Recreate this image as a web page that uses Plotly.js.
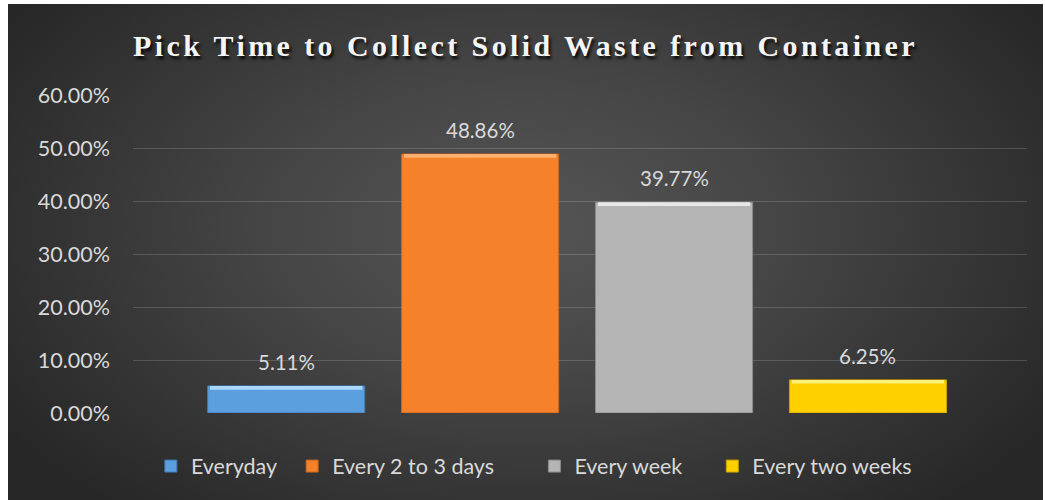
<!DOCTYPE html>
<html>
<head>
<meta charset="utf-8">
<script src="https://cdn.plot.ly/plotly-3.0.1.min.js"></script>
<style>
  html, body { margin: 0; padding: 0; background: #ffffff; width: 1045px; height: 500px; overflow: hidden; }
  #wrap { position: absolute; left: 8px; top: 4px; width: 1035px; height: 496px;
    background: radial-gradient(ellipse 60% 75% at 50% 45%, #555555 0%, #464646 40%, #343434 75%, #272727 100%); }
  #chart { width: 1035px; height: 496px; }
  .gtitle { letter-spacing: 3.4px; }
</style>
</head>
<body>
<div id="wrap"><div id="chart"></div></div>
<script>
const categories = ["Everyday", "Every 2 to 3 days", "Every week", "Every two weeks"];
const values = [0.0511, 0.4886, 0.3977, 0.0625];
const labels = ["5.11%", "48.86%", "39.77%", "6.25%"];
const colors = ["#5b9fdf", "#f5822a", "#b4b4b4", "#ffd000"];
const highlights = ["#a9d8fb", "#fbb070", "#e8e8e8", "#fff07a"];
const edges = ["#3f79b3", "#c9651c", "#8a8a8a", "#c9a000"];
const tickVals = [0, 0.1, 0.2, 0.3, 0.4, 0.5, 0.6];
const tickText = ["0.00%", "10.00%", "20.00%", "30.00%", "40.00%", "50.00%", "60.00%"];

const legendIds = ["legend", "legend2", "legend3", "legend4"];
const legendX = [0.020, 0.178, 0.449, 0.648];

const barWidth = 0.81;
const hl = 0.007;
const traces = [];
categories.forEach((c, i) => {
  traces.push({
    type: "bar", x: [i], y: [values[i]], name: c, width: barWidth,
    marker: { color: colors[i], line: { color: edges[i], width: 1 } },
    hoverinfo: "skip", legendgroup: c, legend: legendIds[i]
  });
});
categories.forEach((c, i) => {
  traces.push({
    type: "bar", x: [i], y: [hl], base: [values[i] - hl], width: barWidth * 0.97,
    marker: { color: highlights[i], line: { width: 0 } },
    showlegend: false, hoverinfo: "skip", legendgroup: c
  });
});

const annotations = categories.map((c, i) => ({
  x: i, y: values[i], xref: "x", yref: "y", text: labels[i], showarrow: false,
  yanchor: "bottom", yshift: 10,
  font: { family: "Lato, 'Open Sans', sans-serif", size: 20.5, color: "#d9d9d9" }
}));

const layout = {
  width: 1035, height: 496,
  paper_bgcolor: "rgba(0,0,0,0)", plot_bgcolor: "rgba(0,0,0,0)",
  margin: { l: 125, r: 16, t: 91, b: 87 },
  barmode: "overlay",
  title: {
    text: "<b>Pick Time to Collect Solid Waste from Container</b>",
    x: 0.5, xref: "container", xanchor: "center",
    y: 1 - 41 / 496, yref: "container", yanchor: "middle",
    font: { family: "'Liberation Serif', 'Times New Roman', serif", size: 30, color: "#f5f5f5",
            shadow: "2px 3px 3px rgba(0,0,0,0.85)" }
  },
  xaxis: {
    range: [-0.79, 3.82], showticklabels: false, showgrid: false, zeroline: false,
    showline: false, ticks: "", fixedrange: true
  },
  yaxis: {
    range: [0, 0.6], tickvals: tickVals, ticktext: tickText,
    showgrid: true, gridcolor: "rgba(255,255,255,0.16)", gridwidth: 1,
    zeroline: false, showline: false, ticks: "", ticklabelstandoff: 22,
    tickfont: { family: "Lato, 'Open Sans', sans-serif", size: 21.5, color: "#d9d9d9" }
  },
  annotations: annotations,
  showlegend: true
};
legendIds.forEach((id, i) => {
  layout[id] = {
    orientation: "h", x: legendX[i], xanchor: "left", y: -0.167, yanchor: "middle",
    font: { family: "Lato, 'Open Sans', sans-serif", size: 21.5, color: "#d9d9d9" },
    bgcolor: "rgba(0,0,0,0)", itemwidth: 30
  };
});

Plotly.newPlot("chart", traces, layout, { displayModeBar: false, staticPlot: true });
</script>
</body>
</html>
